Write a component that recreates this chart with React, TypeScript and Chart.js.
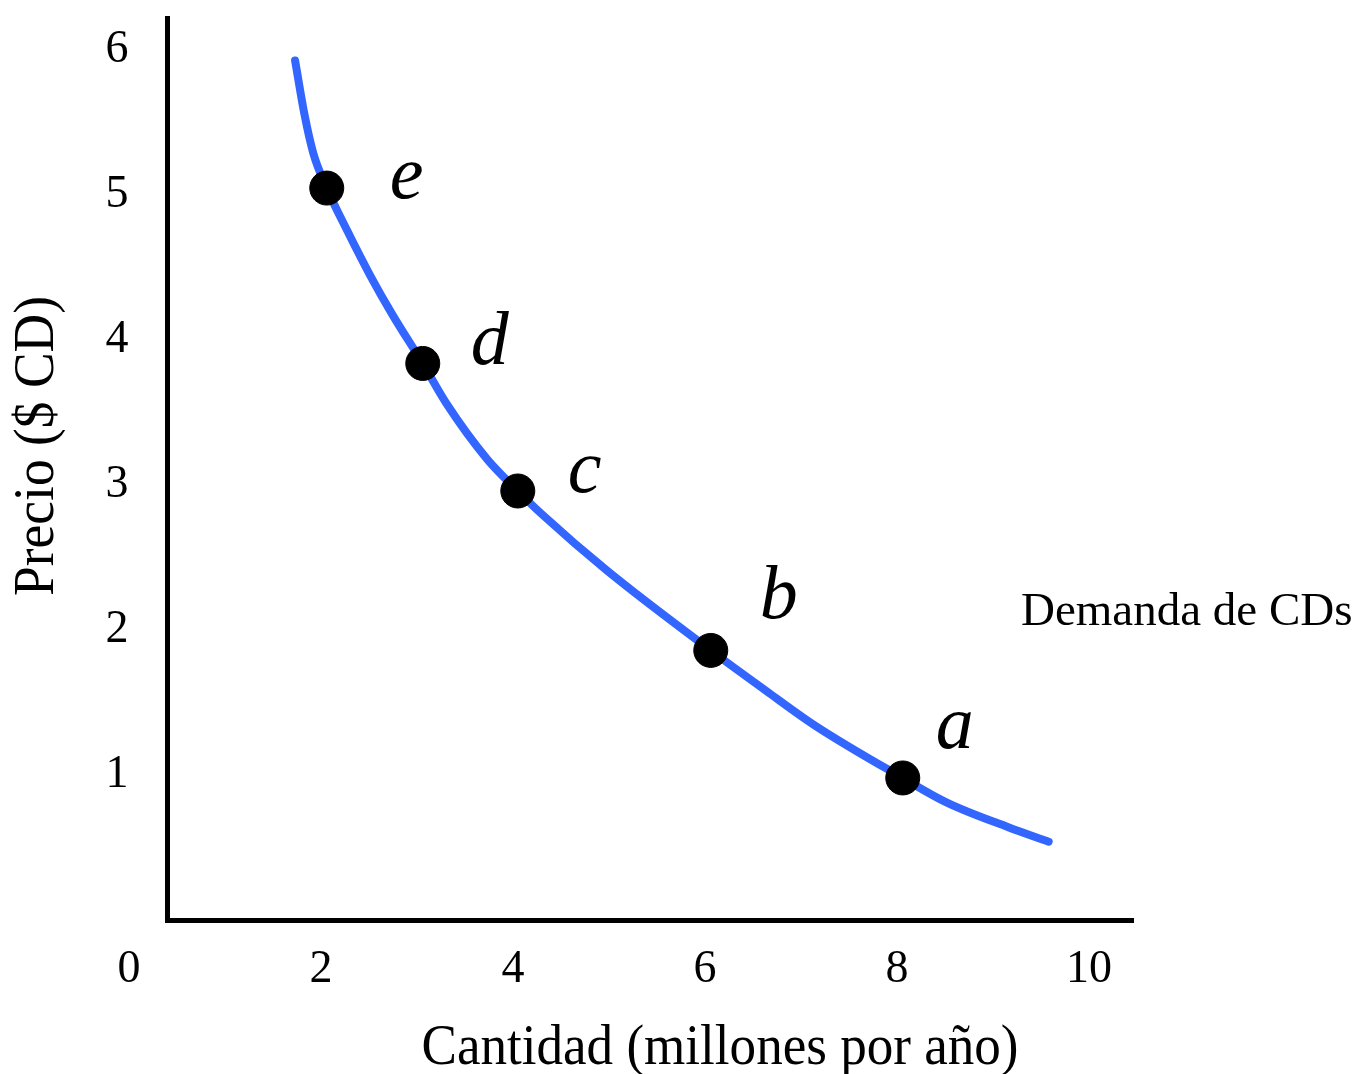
import React, { useEffect, useRef } from 'react';
import { Chart, registerables } from 'chart.js';

Chart.register(...registerables);

// ---- data ----
const X_TICKS = [0, 2, 4, 6, 8, 10];
const Y_TICKS = [1, 2, 3, 4, 5, 6];

const POINT_LABELS = ['e', 'd', 'c', 'b', 'a'];
const POINT_QUANTITY = [2.06, 3.06, 4.05, 6.06, 8.06];
const POINT_PRICE = [5.05, 3.84, 2.96, 1.86, 0.98];

const CURVE_QUANTITY = [1.73, 1.83, 1.92, 2.06, 2.27, 2.51, 2.75, 3.06, 3.31, 3.73, 4.05, 4.3, 4.98, 6.06, 6.66, 7.15, 8.06, 8.52, 9.16, 9.58];
const CURVE_PRICE = [5.93, 5.55, 5.29, 5.05, 4.76, 4.45, 4.17, 3.84, 3.56, 3.18, 2.96, 2.8, 2.41, 1.86, 1.57, 1.34, 0.98, 0.81, 0.64, 0.54];

const X_TITLE = 'Cantidad (millones por año)';
const Y_TITLE = 'Precio ($ CD)';
const CURVE_LABEL = 'Demanda de CDs';

// ---- styling / layout ----
const SERIF = '"Liberation Serif", "Times New Roman", Times, serif';
const LABEL_OFFSETS: [number, number][] = [[63, 10], [48, 1], [50, 1], [49, -32], [33, -30]];

const W = 1361;
const H = 1074;

const annotations = {
  id: 'annotations',
  afterDraw(chart: any) {
    const ctx = chart.ctx as CanvasRenderingContext2D;
    const xs = chart.scales.x;
    const ys = chart.scales.y;
    const area = chart.chartArea;
    ctx.save();
    ctx.fillStyle = '#000';

    // tick labels
    ctx.font = `46px ${SERIF}`;
    ctx.textAlign = 'center';
    ctx.textBaseline = 'middle';
    X_TICKS.forEach((v) => ctx.fillText(String(v), xs.getPixelForValue(v), area.bottom + 50));
    Y_TICKS.forEach((v) => ctx.fillText(String(v), area.left - 50, ys.getPixelForValue(v)));

    // x title (slightly condensed like the reference)
    ctx.font = `57px ${SERIF}`;
    ctx.textBaseline = 'alphabetic';
    ctx.textAlign = 'center';
    let w = ctx.measureText(X_TITLE).width;
    ctx.save();
    ctx.translate(720, 1064);
    ctx.scale(597 / w, 1);
    ctx.fillText(X_TITLE, 0, 0);
    ctx.restore();

    // y title
    w = ctx.measureText(Y_TITLE).width;
    ctx.save();
    ctx.translate(53, 446);
    ctx.rotate(-Math.PI / 2);
    ctx.scale(300 / w, 1);
    ctx.fillText(Y_TITLE, 0, 0);
    ctx.restore();

    // curve label
    ctx.font = `47px ${SERIF}`;
    ctx.textAlign = 'left';
    ctx.fillText(CURVE_LABEL, 1021, 625);

    // point letters
    ctx.font = `italic 76px ${SERIF}`;
    POINT_LABELS.forEach((lab, i) => {
      const px = xs.getPixelForValue(POINT_QUANTITY[i]) + LABEL_OFFSETS[i][0];
      const py = ys.getPixelForValue(POINT_PRICE[i]) + LABEL_OFFSETS[i][1];
      ctx.fillText(lab, px, py);
    });
    ctx.restore();
  },
};

export default function App() {
  const ref = useRef<HTMLCanvasElement | null>(null);

  useEffect(() => {
    document.body.style.margin = '0';
    const canvas = ref.current;
    if (!canvas) return;
    const points = POINT_QUANTITY.map((x, i) => ({ x, y: POINT_PRICE[i] }));
    const curve = CURVE_QUANTITY.map((x, i) => ({ x, y: CURVE_PRICE[i] }));

    const chart = new Chart(canvas, {
      type: 'scatter',
      data: {
        datasets: [
          {
            label: 'Puntos',
            data: points,
            backgroundColor: '#000',
            borderColor: '#000',
            pointRadius: 17,
            pointBorderWidth: 1,
            showLine: false,
            order: 0,
            clip: false,
          } as any,
          {
            label: CURVE_LABEL,
            data: curve,
            borderColor: '#3366ff',
            borderWidth: 8,
            borderCapStyle: 'round',
            borderJoinStyle: 'round',
            pointRadius: 0,
            showLine: true,
            cubicInterpolationMode: 'monotone',
            order: 1,
            clip: false,
          } as any,
        ],
      },
      options: {
        responsive: false,
        animation: false,
        events: [],
        layout: { padding: { left: 167, right: W - 1131, top: 14.5, bottom: H - 920 } },
        plugins: { legend: { display: false }, tooltip: { enabled: false } },
        scales: {
          x: {
            type: 'linear',
            min: (167 - 129) / 96,
            max: (1131 - 129) / 96,
            grid: { display: false, lineWidth: 5 },
            border: { display: true, color: '#000', width: 5 },
            ticks: { display: false },
            afterFit: (s: any) => { s.height = 0; },
          },
          y: {
            type: 'linear',
            min: 0,
            max: (920 - 14.5) / 145.5,
            grid: { display: false, lineWidth: 5 },
            border: { display: true, color: '#000', width: 5 },
            ticks: { display: false },
            afterFit: (s: any) => { s.width = 0; },
          },
        },
      },
      plugins: [annotations],
    } as any);

    return () => chart.destroy();
  }, []);

  return (
    <div style={{ width: W, height: H, background: '#fff' }}>
      <canvas ref={ref} width={W} height={H} style={{ display: 'block' }} />
    </div>
  );
}
